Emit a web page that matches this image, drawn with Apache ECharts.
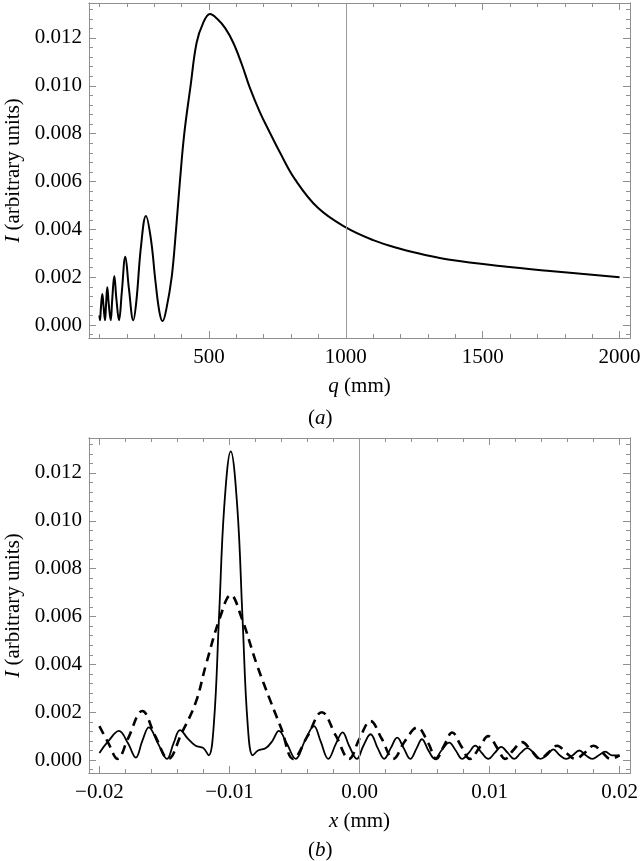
<!DOCTYPE html>
<html>
<head>
<meta charset="utf-8">
<script src="https://cdn.jsdelivr.net/npm/echarts@6/dist/echarts.min.js"></script>
<style>
  html, body { margin: 0; background: #fff; }
  #chart { width: 640px; height: 861px; }
</style>
</head>
<body>
<div id="chart"></div>
<script>
// (a) intensity against q
const qValues = [100, 102, 106, 110.6, 115, 120.4, 124.5, 128.8, 134, 141.3, 147, 154.4, 162, 171.6, 182, 194.6, 208, 223.8, 235, 252, 270, 288, 305, 320, 331, 345, 364, 380, 394, 410, 433, 455, 478, 504, 530, 560, 589, 620, 650, 686, 720, 760, 814, 898, 1000, 1100, 1198, 1290, 1380, 1563, 1746, 2000];
const intensityA = [0.0004, 0.0002, 0.0008, 0.0013, 0.0008, 0.0002, 0.0009, 0.00158, 0.0009, 0.0002, 0.0011, 0.00205, 0.0011, 0.0002, 0.0014, 0.00286, 0.0015, 0.0002, 0.0010, 0.0033, 0.00456, 0.0036, 0.0018, 0.0005, 0.00017, 0.0007, 0.0020, 0.0040, 0.0060, 0.0080, 0.0100, 0.0118, 0.0126, 0.0130, 0.0128, 0.0124, 0.0118, 0.0109, 0.0099, 0.0089, 0.0081, 0.0072, 0.0061, 0.0049, 0.00408, 0.00355, 0.00319, 0.00293, 0.00273, 0.00247, 0.00226, 0.0020];

// (b) intensity against x, solid and dashed
const xSolid = [-0.0200, -0.0193, -0.0185, -0.0178, -0.0172, -0.0167, -0.0162, -0.0155, -0.0148, -0.0143, -0.0138, -0.0132, -0.0126, -0.0120, -0.0116, -0.0112, -0.0108, -0.0104, -0.0099, -0.0094, -0.0090, -0.0086, -0.0082, -0.0078, -0.0072, -0.0067, -0.0062, -0.0056, -0.0049, -0.0042, -0.0035, -0.0030, -0.0024, -0.0018, -0.0013, -0.0008, -0.0002, 0.0003, 0.00085, 0.0014, 0.0019, 0.0024, 0.0029, 0.0034, 0.0039, 0.0044, 0.0048, 0.0053, 0.0058, 0.0063, 0.0069, 0.0074, 0.0079, 0.0084, 0.0089, 0.0094, 0.0099, 0.0104, 0.0109, 0.0114, 0.0119, 0.0124, 0.0129, 0.0134, 0.0139, 0.0144, 0.0149, 0.0154, 0.0159, 0.0164, 0.0169, 0.0174, 0.0179, 0.0184, 0.0189, 0.0194, 0.0200];
const intensitySolid = [0.0003, 0.0008, 0.00122, 0.0007, 0.0001, 0.0008, 0.00137, 0.0007, 0.00005, 0.0007, 0.00125, 0.0009, 0.0006, 0.0005, 0.0002, 0.0015, 0.0060, 0.0106, 0.0129, 0.0106, 0.0060, 0.0015, 0.0002, 0.0004, 0.0005, 0.0008, 0.00122, 0.0007, 0.00005, 0.0008, 0.00142, 0.0008, 0.00005, 0.0007, 0.00116, 0.0006, 0.00005, 0.0006, 0.00108, 0.0005, 0.00005, 0.0005, 0.00094, 0.0005, 0.00005, 0.0005, 0.00087, 0.0004, 0.00005, 0.0004, 0.00073, 0.0004, 0.00005, 0.0003, 0.0006, 0.0003, 0.00005, 0.0003, 0.00055, 0.0003, 0.00005, 0.0003, 0.0005, 0.0003, 0.00005, 0.0002, 0.00045, 0.0002, 0.00005, 0.0002, 0.0004, 0.0002, 0.00005, 0.0002, 0.00035, 0.0002, 0.0002];
const xDashed = [-0.0200, -0.0193, -0.0186, -0.0178, -0.0167, -0.0157, -0.0147, -0.0137, -0.0126, -0.0118, -0.0107, -0.0099, -0.0091, -0.0079, -0.0068, -0.0060, -0.0051, -0.0040, -0.0029, -0.0018, -0.0008, 0.0000, 0.00085, 0.0017, 0.0026, 0.0035, 0.00444, 0.0053, 0.0059, 0.0065, 0.00713, 0.0078, 0.0085, 0.0092, 0.0099, 0.0106, 0.0112, 0.0118, 0.0125, 0.0132, 0.0139, 0.0145, 0.0152, 0.0159, 0.0166, 0.0173, 0.0180, 0.0187, 0.0193, 0.0200];
const intensityDashed = [0.00142, 0.0007, 0.00005, 0.0009, 0.00205, 0.0010, 0.00005, 0.0011, 0.0024, 0.0040, 0.0060, 0.0069, 0.0060, 0.0040, 0.0024, 0.0013, 0.00005, 0.0010, 0.0020, 0.0010, 0.00005, 0.0009, 0.00163, 0.0009, 0.00005, 0.0008, 0.00136, 0.0007, 0.00005, 0.0006, 0.00115, 0.0006, 0.00005, 0.0005, 0.0010, 0.0005, 0.00005, 0.0004, 0.00075, 0.0004, 0.00005, 0.0003, 0.0006, 0.0003, 0.00005, 0.0003, 0.0006, 0.0003, 0.00005, 0.0002];

// ticks
const qMajorTicks = [500, 1000, 1500, 2000];
const qMinorTicks = [100, 200, 300, 400, 600, 700, 800, 900, 1100, 1200, 1300, 1400, 1600, 1700, 1800, 1900];
const xMajorTicks = [-0.02, -0.01, 0, 0.01, 0.02];
const xMinorTicks = [-0.018, -0.016, -0.014, -0.012, -0.008, -0.006, -0.004, -0.002, 0.002, 0.004, 0.006, 0.008, 0.012, 0.014, 0.016, 0.018];
const iMajorTicks = [0, 0.002, 0.004, 0.006, 0.008, 0.010, 0.012];
const iMinorTicks = [-0.0004, 0.0004, 0.0008, 0.0012, 0.0016, 0.0024, 0.0028, 0.0032, 0.0036, 0.0044, 0.0048, 0.0052, 0.0056, 0.0064, 0.0068, 0.0072, 0.0076, 0.0084, 0.0088, 0.0092, 0.0096, 0.0104, 0.0108, 0.0112, 0.0116, 0.0124, 0.0128, 0.0132];

const frameColor = '#8f8f8f';
const serif = 'Liberation Serif';
const qRange = [62, 2038];
const xRange = [-0.0208, 0.0208];
const iRange = [-0.00054, 0.01346];

function zip(xs, ys) {
  return xs.map((x, i) => [x, ys[i]]);
}

const textStyle = {
  fontFamily: serif,
  fontSize: 21,
  color: '#000',
  rich: { i: { fontFamily: serif, fontSize: 21, fontStyle: 'italic', color: '#000' } },
};

// one plain tick axis, labels off unless given
function tickAxis(grid, pos, range, ticks, len, extra) {
  return Object.assign({
    type: 'value',
    gridIndex: grid,
    position: pos,
    min: range[0],
    max: range[1],
    axisLine: { show: true, onZero: false, lineStyle: { color: frameColor, width: 1 } },
    axisTick: { show: true, inside: true, length: len, customValues: ticks, lineStyle: { color: frameColor, width: 1 } },
    axisLabel: { show: false },
    splitLine: { show: false },
  }, extra);
}

function xAxesFor(grid, range, major, minor, fmt, title) {
  return [
    tickAxis(grid, 'bottom', range, major, 7, {
      axisLabel: { show: true, customValues: major, formatter: fmt, margin: 9, fontFamily: serif, fontSize: 21, color: '#000' },
      name: title,
      nameLocation: 'middle',
      nameGap: 38,
      nameTextStyle: textStyle,
    }),
    tickAxis(grid, 'bottom', range, minor, 4),
    tickAxis(grid, 'top', range, major, 7),
    tickAxis(grid, 'top', range, minor, 4),
  ];
}

function yAxesFor(grid) {
  return [
    tickAxis(grid, 'left', iRange, iMajorTicks, 7, {
      axisLabel: { show: true, customValues: iMajorTicks, formatter: v => v.toFixed(3), margin: 7, fontFamily: serif, fontSize: 21, color: '#000' },
      name: '{i|I} (arbitrary units)',
      nameLocation: 'middle',
      nameGap: 63,
      nameTextStyle: textStyle,
    }),
    tickAxis(grid, 'left', iRange, iMinorTicks, 4),
    tickAxis(grid, 'right', iRange, iMajorTicks, 7),
    tickAxis(grid, 'right', iRange, iMinorTicks, 4),
  ];
}

function guide(value) {
  return {
    silent: true,
    symbol: 'none',
    label: { show: false },
    lineStyle: { color: '#999', width: 1, type: 'solid' },
    data: [{ xAxis: value }],
  };
}

const chart = echarts.init(document.getElementById('chart'), null, { renderer: 'canvas' });

const option = {
  animation: false,
  backgroundColor: '#fff',
  grid: [
    { left: 89, right: 10, top: 3, height: 335, containLabel: false, outerBoundsMode: 'none' },
    { left: 89, right: 10, top: 438, height: 335, containLabel: false, outerBoundsMode: 'none' },
  ],
  xAxis: [
    ...xAxesFor(0, qRange, qMajorTicks, qMinorTicks, v => String(v), '{i|q} (mm)'),
    ...xAxesFor(1, xRange, xMajorTicks, xMinorTicks, v => (v < 0 ? '\u2212' : '') + Math.abs(v).toFixed(2), '{i|x} (mm)'),
  ],
  yAxis: [...yAxesFor(0), ...yAxesFor(1)],
  series: [
    {
      type: 'line',
      xAxisIndex: 0,
      yAxisIndex: 0,
      data: zip(qValues, intensityA),
      showSymbol: false,
      smooth: 0.4,
      lineStyle: { color: '#000', width: 2 },
      markLine: guide(1000),
    },
    {
      type: 'line',
      xAxisIndex: 4,
      yAxisIndex: 4,
      data: zip(xSolid, intensitySolid),
      showSymbol: false,
      smooth: 0.4,
      lineStyle: { color: '#000', width: 1.8 },
      markLine: guide(0),
    },
    {
      type: 'line',
      xAxisIndex: 4,
      yAxisIndex: 4,
      data: zip(xDashed, intensityDashed),
      showSymbol: false,
      smooth: 0.4,
      lineStyle: { color: '#000', width: 2.6, type: [9, 6] },
    },
  ],
  graphic: [
    { type: 'text', left: 308, top: 408, style: { text: '({i|a})', font: '21px "Liberation Serif"', fill: '#000', rich: textStyle.rich } },
    { type: 'text', left: 308, top: 840, style: { text: '({i|b})', font: '21px "Liberation Serif"', fill: '#000', rich: textStyle.rich } },
  ],
};

chart.setOption(option);
</script>
</body>
</html>
